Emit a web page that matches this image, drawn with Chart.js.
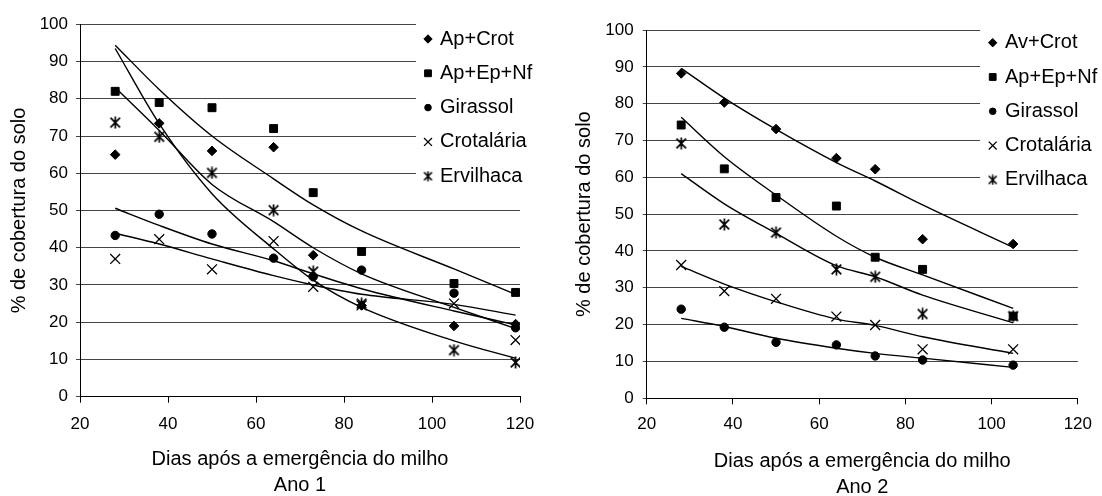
<!DOCTYPE html>
<html><head><meta charset="utf-8">
<script src="https://cdn.jsdelivr.net/npm/chart.js@4/dist/chart.umd.min.js"></script>
<style>
html,body{margin:0;padding:0;background:#fff;}
#wrap{position:relative;width:1102px;height:496px;overflow:hidden;}
canvas{position:absolute;top:0;}
#c1{left:0;} #c2{left:551px;}
</style></head><body>
<div id="wrap"><canvas id="c1" width="551" height="496"></canvas><canvas id="c2" width="551" height="496"></canvas></div>
<script>
// ---------- data ----------
const days1 = [28, 38, 50, 64, 73, 84, 105, 119];
const days2 = [28, 38, 50, 64, 73, 84, 105];
const names1 = ['Ap+Crot', 'Ap+Ep+Nf', 'Girassol', 'Crotalária', 'Ervilhaca'];
const names2 = ['Av+Crot', 'Ap+Ep+Nf', 'Girassol', 'Crotalária', 'Ervilhaca'];
const xTitle = 'Dias após a emergência do milho';
const yTitle = '% de cobertura do solo';
const yearLabels = ['Ano 1', 'Ano 2'];

// Ano 1 observed
const apCrot1     = [65, 73.4, 66, 67, 38, 24.5, 19, 19.5];
const apEpNf1     = [82, 79, 77.6, 72, 54.8, 39, 30.4, 28];
const girassol1   = [43.3, 49, 43.7, 37.2, 32.2, 34, 27.8, 18.5];
const crotalaria1 = [37, 42.3, 34.2, 41.8, 29.5, 24.5, 25, 15.2];
const ervilhaca1  = [73.6, 69.8, 60.1, 50.1, 33.6, 25, 12.5, 9.2];
// Ano 1 trend lines
const trendApCrot1     = [83, 71.5, 57, 47, 40, 33, 24, 18.3];
const trendApEpNf1     = [94.4, 82.5, 70, 58.5, 51.5, 44.5, 34.3, 27.5];
const trendGirassol1   = [50.6, 46, 41, 36.5, 33, 29, 23, 19.3];
const trendCrotalaria1 = [43.9, 41, 37, 32.5, 30, 27.5, 24.8, 21.9];
const trendErvilhaca1  = [93.5, 73.3, 54.5, 39.7, 31.3, 24, 15, 10.3];

// Ano 2 observed
const avCrot2     = [88.2, 80.3, 73.1, 65.2, 62.2, 43.2, 41.9];
const apEpNf2     = [74.2, 62.3, 54.5, 52.2, 38.3, 35, 22.3];
const girassol2   = [24.2, 19.3, 15.2, 14.5, 11.5, 10.4, 9];
const crotalaria2 = [36.2, 29.1, 27, 22.2, 19.9, 13.3, 13.3];
const ervilhaca2  = [69.2, 47.2, 45, 35, 33, 22.9, 22.3];
// Ano 2 trend lines
const trendAvCrot2     = [89.6, 81.5, 73, 64, 59, 52.5, 41];
const trendApEpNf2     = [76.3, 65.6, 55.2, 44, 38.3, 33.5, 24.4];
const trendGirassol2   = [21.7, 19.5, 16.3, 13.6, 12.2, 10.9, 8.4];
const trendCrotalaria2 = [35.8, 31, 26.2, 21.5, 19.8, 16.7, 12.2];
const trendErvilhaca2  = [61, 52.8, 44.8, 36, 33, 28, 20.5];

// ---------- helpers ----------
const FONT = '"Liberation Sans", Arial, Helvetica, sans-serif';
function makeStar(size, lw) {
  const c = document.createElement('canvas');
  c.width = size; c.height = size;
  const g = c.getContext('2d');
  g.strokeStyle = '#000'; g.lineWidth = lw;
  const m = size / 2, r = size / 2 - 0.5;
  g.beginPath();
  g.moveTo(m - r * 0.8, m - r * 0.8); g.lineTo(m + r * 0.8, m + r * 0.8);
  g.moveTo(m + r * 0.8, m - r * 0.8); g.lineTo(m - r * 0.8, m + r * 0.8);
  g.moveTo(m, m - r); g.lineTo(m, m + r);
  g.stroke();
  return c;
}
const starBig = makeStar(13, 1.7);
const starSmall = makeStar(11, 1.6);

const markerStyles = [
  {style: 'rectRot', r: 4.8, lr: 4.2, bw: 1},
  {style: 'rect', r: 5.6, lr: 4.8, bw: 1},
  {style: 'circle', r: 4.2, lr: 3.3, bw: 1},
  {style: 'crossRot', r: 7, lr: 5.6, bw: 1.3},
  {style: starBig, legendStyle: starSmall, r: 6, lr: 5, bw: 1}
];

function pts(days, vals) { return days.map((d, i) => ({x: d, y: vals[i]})); }

function buildDatasets(days, names, observed, trends) {
  const ds = [];
  observed.forEach((vals, i) => {
    const m = markerStyles[i];
    ds.push({
      label: names[i], data: pts(days, vals), showLine: false,
      pointStyle: m.style, pointRadius: m.r, pointHoverRadius: m.r,
      pointBorderWidth: m.bw, backgroundColor: '#000', borderColor: '#000'
    });
  });
  trends.forEach((vals, i) => {
    ds.push({
      label: 'trend ' + names[i], data: pts(days, vals), showLine: true,
      pointRadius: 0, borderColor: '#000', borderWidth: 1.4,
      cubicInterpolationMode: 'monotone', fill: false
    });
  });
  return ds;
}

function legendPlugin(names, cfg) {
  return {
    id: 'boxLegend',
    beforeDatasetsDraw(chart) {
      const ctx = chart.ctx;
      ctx.save();
      ctx.fillStyle = '#fff';
      ctx.fillRect(cfg.boxX, 0, chart.width - cfg.boxX, cfg.boxBottom);
      ctx.font = '20px ' + FONT;
      ctx.textBaseline = 'middle';
      ctx.textAlign = 'left';
      names.forEach((n, i) => {
        const y = cfg.y0 + i * cfg.dy;
        const m = markerStyles[i];
        ctx.fillStyle = '#000'; ctx.strokeStyle = '#000';
        ctx.lineWidth = m.bw;
        Chart.helpers.drawPoint(ctx, {pointStyle: m.legendStyle || m.style, radius: m.lr, borderWidth: m.bw, rotation: 0}, cfg.markerX, y);
        ctx.fillStyle = '#000';
        ctx.fillText(n, cfg.textX, y);
      });
      ctx.restore();
    }
  };
}

function makeChart(id, days, names, observed, trends, ano, cfg) {
  return new Chart(document.getElementById(id), {
    type: 'scatter',
    data: {datasets: buildDatasets(days, names, observed, trends)},
    options: {
      responsive: false, animation: false, devicePixelRatio: 1,
      layout: {padding: cfg.padding},
      plugins: {legend: {display: false}, tooltip: {enabled: false}},
      events: [],
      scales: {
        x: {
          type: 'linear', min: 20, max: 120,
          ticks: {stepSize: 20, color: '#000', font: {family: FONT, size: 17}, padding: cfg.xTickPad},
          grid: {drawOnChartArea: false, drawTicks: true, tickLength: 6, color: '#000', lineWidth: 1},
          border: {color: '#000', width: 1},
          title: {display: true, text: [xTitle, ano], color: '#000',
                  font: {family: FONT, size: 20, lineHeight: 1.3}, padding: {top: 0, bottom: cfg.xTitleBottom}},
          afterFit(s) { s.height = cfg.xH; }
        },
        y: {
          type: 'linear', min: 0, max: 100,
          ticks: {stepSize: 10, color: '#000', font: {family: FONT, size: 17}, padding: cfg.yTickPad},
          grid: {color: '#444', lineWidth: 1, tickLength: 4},
          border: {color: '#000', width: 1},
          title: {display: true, text: yTitle, color: '#000',
                  font: {family: FONT, size: 20, lineHeight: 1.2}, padding: {top: cfg.yTitleTop, bottom: 0}},
          afterFit(s) { s.width = cfg.yW; }
        }
      }
    },
    plugins: [legendPlugin(names, cfg.legend)]
  });
}

makeChart('c1', days1, names1,
  [apCrot1, apEpNf1, girassol1, crotalaria1, ervilhaca1],
  [trendApCrot1, trendApEpNf1, trendGirassol1, trendCrotalaria1, trendErvilhaca1],
  yearLabels[0],
  {padding: {top: 24.3, left: 0, right: 31, bottom: 0}, xH: 99.3, yW: 80,
   xTickPad: 11, yTickPad: 8, xTitleBottom: -2, yTitleTop: 7.5,
   legend: {boxX: 416, boxBottom: 193, markerX: 428, textX: 440, y0: 39, dy: 34.3}});

makeChart('c2', days2, names2,
  [avCrot2, apEpNf2, girassol2, crotalaria2, ervilhaca2],
  [trendAvCrot2, trendApEpNf2, trendGirassol2, trendCrotalaria2, trendErvilhaca2],
  yearLabels[1],
  {padding: {top: 30, left: 0, right: 19.3, bottom: 0}, xH: 97.7, yW: 95.7,
   xTickPad: 10, yTickPad: 9, xTitleBottom: -4, yTitleTop: 21.5,
   legend: {boxX: 429, boxBottom: 197, markerX: 441.7, textX: 454, y0: 42.7, dy: 34.3}});
</script>
</body></html>
